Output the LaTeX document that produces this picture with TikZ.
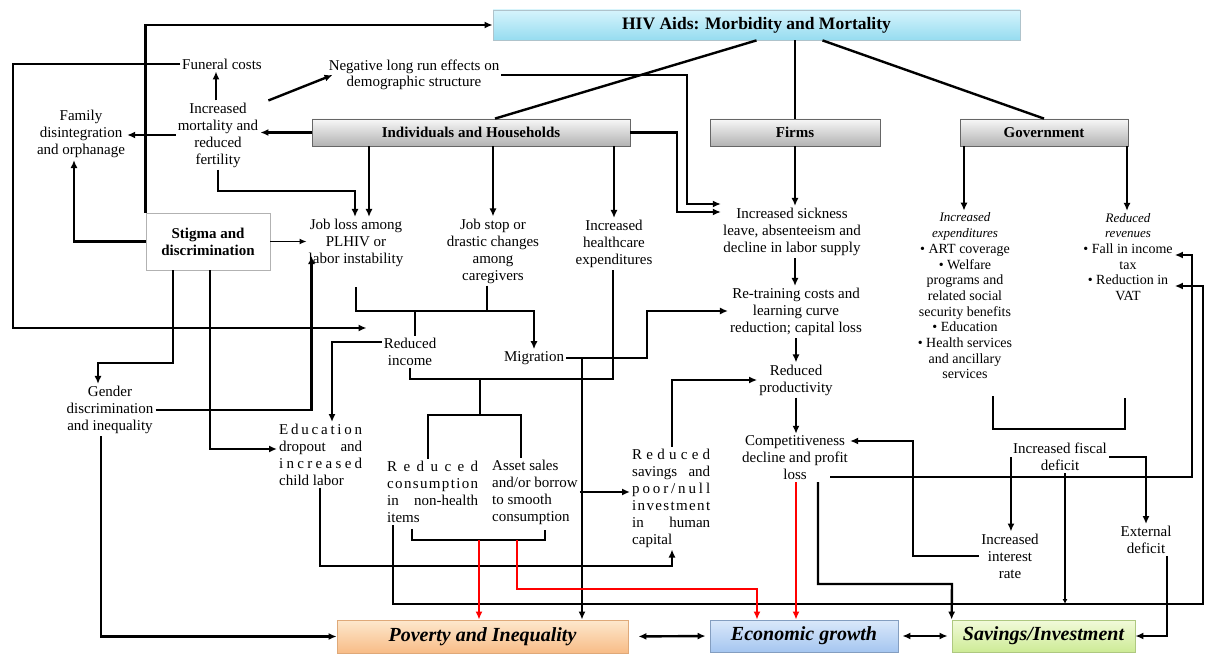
\documentclass[tikz,border=0pt]{standalone}
\usepackage{fontspec}
\setmainfont{Liberation Serif}
\usetikzlibrary{arrows.meta}

\makeatletter
\def\lsp@#1#2\@nil{#1\ifx\relax#2\relax\else\hfill\lsp@#2\@nil\fi}
\newcommand{\letterfill}[2]{\makebox[#1][s]{\lsp@#2\@nil}}
\makeatother
\newcommand{\wordfill}[2]{\makebox[#1][s]{#2}}
\newcommand{\govhead}[1]{{\fontsize{13}{15.7}\selectfont\itshape #1}}

\definecolor{hivtop}{RGB}{214,244,252}
\definecolor{hivbot}{RGB}{150,220,240}
\definecolor{povtop}{RGB}{253,232,205}
\definecolor{povbot}{RGB}{248,188,135}
\definecolor{ecotop}{RGB}{218,232,250}
\definecolor{ecobot}{RGB}{165,198,240}
\definecolor{savtop}{RGB}{242,250,218}
\definecolor{savbot}{RGB}{205,235,150}

\tikzset{
  txt/.style={align=center, inner sep=2pt, font=\fontsize{15}{17}\selectfont},
  govtxt/.style={txt, font=\fontsize{14}{15.7}\selectfont},
  hdr/.style={draw=black!60, line width=0.8pt, top color=black!3, bottom color=black!30,
    inner sep=0pt, minimum height=27pt, font=\fontsize{15}{17}\selectfont\bfseries},
  outcome/.style={line width=0.8pt, inner sep=0pt, minimum height=32pt,
    font=\fontsize{20}{22}\selectfont\bfseries\itshape},
  ln/.style={line width=2.4pt},
  arr/.style={ln, -{Latex[length=8pt,width=7pt]}},
  redarr/.style={arr, red},
  dbl/.style={ln, {Latex[length=8pt,width=7pt]}-{Latex[length=8pt,width=7pt]}},
}

\begin{document}
\begin{tikzpicture}[x=1pt,y=-1pt]
\useasboundingbox (0,0) rectangle (1205,655);

% boxes
\node[draw=cyan!25!gray!60, line width=0.8pt, top color=hivtop, bottom color=hivbot,
  minimum width=527pt, minimum height=30pt, inner sep=0pt,
  font=\fontsize{17.5}{20}\selectfont\bfseries] (hiv) at (756.5,25) {HIV Aids: Morbidity and Mortality};
\node[hdr, minimum width=318pt] (ind) at (471,132.5) {Individuals and Households};
\node[hdr, minimum width=170pt] (firms) at (795,132.5) {Firms};
\node[hdr, minimum width=168pt] (gov) at (1044,132.5) {Government};
\node[draw=black!30, line width=0.8pt, fill=white, minimum width=124pt, minimum height=57pt,
  inner sep=0pt, align=center, font=\fontsize{15}{17}\selectfont\bfseries] (stig) at (208,241.5) {Stigma and\\discrimination};
\node[outcome, draw=povbot!90!black, top color=povtop, bottom color=povbot,
  minimum width=291pt, minimum height=33pt] (pov) at (482.5,636.5) {Poverty and Inequality};
\node[outcome, draw=ecobot!80!black, top color=ecotop, bottom color=ecobot,
  minimum width=188pt] (eco) at (804,636) {Economic growth};
\node[outcome, draw=savbot!85!black, top color=savtop, bottom color=savbot,
  minimum width=183pt] (savinv) at (1043.5,636) {Savings/Investment};

% texts
\node[txt] (fun) at (222,64) {Funeral costs};
\node[txt, font=\fontsize{15}{16}\selectfont] (neg) at (414,75) {Negative long run effects on\\demographic structure};
\node[txt] (mort) at (218,135) {Increased\\mortality and\\reduced\\fertility};
\node[txt] (fam) at (81,134) {Family\\disintegration\\and orphanage};
\node[txt] (jobloss) at (356,243) {Job loss among\\PLHIV or\\labor instability};
\node[txt] (jobstop) at (493,251) {Job stop or\\drastic changes\\among\\caregivers};
\node[txt] (health) at (614,244) {Increased\\healthcare\\expenditures};
\node[txt] (sick) at (792,232) {Increased sickness\\leave, absenteeism and\\decline in labor supply};
\node[txt] (retrain) at (796,312) {Re-training costs and\\learning curve\\reduction; capital loss};
\node[txt] (prod) at (796,380) {Reduced\\productivity};
\node[txt] (comp) at (795,458) {Competitiveness\\decline and profit\\loss};
\node[txt] (inc) at (410,352) {Reduced\\income};
\node[txt] (mig) at (534,358) {Migration};
\node[txt] (gender) at (110,410) {Gender\\discrimination\\and inequality};
\node[txt, align=left, anchor=west] (edu) at (277,455)
  {\letterfill{83pt}{Education}\\\wordfill{83pt}{dropout and}\\\letterfill{83pt}{increased}\\child labor};
\node[txt, align=left, anchor=west] (cons) at (385,492)
  {\letterfill{91pt}{Reduced}\\\letterfill{91pt}{consumption}\\\wordfill{91pt}{in non-health}\\items};
\node[txt, align=left, anchor=west] (asset) at (490,492) {Asset sales\\and/or borrow\\to smooth\\consumption};
\node[txt, align=left, anchor=west] (sav) at (630,498)
  {\letterfill{78pt}{Reduced}\\\wordfill{78pt}{savings and}\\\letterfill{78pt}{poor/null}\\\letterfill{78pt}{investment}\\\wordfill{78pt}{in human}\\capital};
\node[govtxt] (exp) at (965,296) {\govhead{Increased}\\\govhead{expenditures}\\• ART coverage\\• Welfare\\programs and\\related social\\security benefits\\• Education\\• Health services\\and ancillary\\services};
\node[govtxt] (rev) at (1128,257) {\govhead{Reduced}\\\govhead{revenues}\\• Fall in income\\tax\\• Reduction in\\VAT};
\node[txt] (fiscal) at (1060,457) {Increased fiscal\\deficit};
\node[txt] (interest) at (1010,556) {Increased\\interest\\rate};
\node[txt] (extdef) at (1146,540) {External\\deficit};

% top level links
\draw[ln] (hiv.south) -- ([xshift=24pt]ind.north);
\draw[ln] (795,0 |- hiv.south) -- (firms.north);
\draw[ln] ([xshift=66pt]hiv.south) -- (gov.north);
\draw[arr] (stig.north west) |- (hiv.west);

% households
\draw[arr] (ind.west) -- (ind.west -| mort.east);
\draw[arr] (mort.west) -- (mort.west -| fam.east);
\draw[arr] (216,0 |- mort.north) -- (216,0 |- fun.south);
\draw[arr] ([xshift=8pt]mort.north east) -- ([xshift=6pt]neg.west);
\draw[arr] (fun.west) -| (13,328) -- ([shift={(-15,-24)}]inc.west);
\draw[arr] (mort.south) |- (355,191) -- (355,191 |- jobloss.north);
\draw[arr] (369,0 |- ind.south) -- (369,0 |- jobloss.north);
\draw[arr] (493,0 |- ind.south) -- (493,0 |- jobstop.north);
\draw[arr] (614,0 |- ind.south) -- (614,0 |- health.north);
\draw[arr] (ind.east) -| (677,212) -- (677,212 -| sick.west);
\draw[arr] (neg.east) -| (687,204) -- (687,204 -| sick.west);

% stigma
\draw[arr] (stig.west) -| (74,0 |- fam.south);
\draw[line width=1.2pt, -{Latex[length=7pt,width=6pt]}] (stig.east) -- (stig.east -| jobloss.west);
\draw[arr] (173,0 |- stig.south) |- (98,363) -- (98,0 |- gender.north);
\draw[arr] (210,0 |- stig.south) |- ([yshift=6pt]edu.west);
\draw[arr] (gender.east) -| ([shift={(5,-13)}]jobloss.south west);
\draw[arr] (101,0 |- gender.south) |- (pov.west);

% income and migration
\draw[arr] ([yshift=-18pt]jobloss.south) |- (534,311) -- (534,0 |- mig.north);
\draw[ln] (487,0 |- jobstop.south) -- (487,311);
\draw[ln] (415,311) -- (415,0 |- inc.north);
\draw[arr] ([yshift=10pt]inc.west) -| (332,0 |- edu.north);
\draw[ln] (410,0 |- inc.south) |- (613,379) -- (613,0 |- health.south);
\draw[ln] (480,379) |- (428,415) -- (428,0 |- cons.north);
\draw[ln] (480,415) -| (521,0 |- asset.north);
\draw[arr] (mig.east) -| (647,311) -- (647,311 -| retrain.west);
\draw[arr] (582,0 |- mig.east) -- (582,0 |- pov.north);
\draw[arr] (asset.east) -- (asset.east -| sav.west);
\draw[arr] ([xshift=43pt]edu.south west) |- (672,566) -- (672,0 |- sav.south);
\draw[arr] (672,0 |- sav.north) |- (prod.west);

% firms
\draw[arr] (firms.south) -- (firms.south |- sick.north);
\draw[arr] (795,0 |- sick.south) -- (795,0 |- retrain.north);
\draw[arr] (796,0 |- retrain.south) -- (796,0 |- prod.north);
\draw[arr] (796,0 |- prod.south) -- (796,0 |- comp.north);
\draw[arr] (818,0 |- comp.south) |- (952,584) -- (savinv.north west);
\draw[arr] (comp.south east) ++(-20,-5) -| (1192,255) -- (1192,255 -| rev.east);

% government
\draw[arr] (964,0 |- gov.south) -- (964,0 |- exp.north);
\draw[arr] (1127,0 |- gov.south) -- (1127,0 |- rev.north);
\draw[ln] (exp.south) ++(28,15) |- (1125,429) -- (1125,398);
\draw[arr] (fiscal.west) -- (fiscal.west |- interest.north);
\draw[arr] (fiscal.east) -| (extdef.north);
\draw[arr] (interest.west) -| (913,441) -- (913,441 -| comp.east);
\draw[arr] (1167,0 |- extdef.south) |- (savinv.east);
\draw[ln, -{Latex[length=5pt,width=5pt]}] (1065,0 |- fiscal.south) -- (1065,604);

% long return line
\draw[arr] (cons.south west) ++(8,0) |- (1203,604) |- (1203,286 -| rev.east);

% red channels
\draw[ln] (cons.south west) ++(27,4) |- (545,540) -- (545,530);
\draw[redarr] (479,540) -- (479,0 |- pov.north);
\draw[redarr] (517,540) |- (757,589) -- (757,0 |- eco.north);
\draw[redarr] (796,0 |- comp.south) -- (796,0 |- eco.north);

% outcomes
\draw[dbl, shorten <=10pt, shorten >=4pt] (pov.east) -- (eco.west);
\draw[dbl, shorten <=4pt, shorten >=4pt] (eco.east) -- (savinv.west);
\end{tikzpicture}
\end{document}
